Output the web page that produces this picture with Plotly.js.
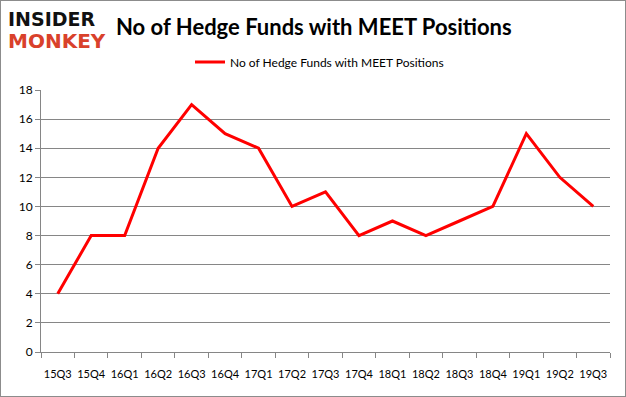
<!DOCTYPE html>
<html><head><meta charset="utf-8">
<script src="https://cdn.plot.ly/plotly-3.0.1.min.js"></script>
<style>html,body{margin:0;padding:0;background:#fff}#wrap{width:624px;height:395px;border:1px solid #8c8c8c}#chart{width:624px;height:395px}</style>
</head><body><div id="wrap"><div id="chart"></div></div>
<script>
var quarters = ["15Q3","15Q4","16Q1","16Q2","16Q3","16Q4","17Q1","17Q2","17Q3","17Q4","18Q1","18Q2","18Q3","18Q4","19Q1","19Q2","19Q3"];
var funds = [4,8,8,14,17,15,14,10,11,8,9,8,9,10,15,12,10];
var seriesName = "No of Hedge Funds with MEET Positions";
var yTicks = [0,2,4,6,8,10,12,14,16,18];

var L = 40, R = 15, T = 89, B = 44, W = 624, H = 395;
var pw = W - L - R, ph = H - T - B;
function px(x){ return (x - 1 - L) / pw; }
function py(y){ return 1 - (y - 1 - T) / ph; }

var font = "Lato, Calibri, 'Open Sans', sans-serif";
var layout = {
  width: W, height: H,
  margin: {l: L, r: R, t: T, b: B},
  paper_bgcolor: "#fff", plot_bgcolor: "#fff",
  showlegend: true,
  legend: {orientation: "h", x: px(190), xanchor: "left", y: py(62), yanchor: "middle",
           font: {family: font, size: 12, color: "#000"}},
  xaxis: {type: "category", tickson: "boundaries", ticks: "outside", ticklen: 5, tickcolor: "#868686",
          showline: true, linecolor: "#868686", showgrid: false, tickangle: 0, automargin: false,
          ticklabelstandoff: 12,
          tickfont: {family: font, size: 11, color: "#000"}, range: [-0.5, 16.5]},
  yaxis: {range: [0, 18], tickvals: yTicks, ticks: "outside", ticklen: 5, tickcolor: "#868686",
          showline: true, linecolor: "#868686", gridcolor: "#868686", gridwidth: 1,
          zeroline: false, tickfont: {family: font, size: 12, color: "#000"}},
  annotations: [
    {text: "<b>No of Hedge Funds with MEET Positions</b>", xref: "paper", yref: "paper", x: px(114), y: py(26),
     xanchor: "left", yanchor: "middle", showarrow: false, font: {family: font, size: 22, color: "#000"}},
    {text: "<b>INSIDER</b>", xref: "paper", yref: "paper", x: px(6), y: py(19), xanchor: "left", yanchor: "middle",
     showarrow: false, font: {family: "'DejaVu Sans', sans-serif", size: 19, color: "#111"}},
    {text: "<b>MONKEY</b>", xref: "paper", yref: "paper", x: px(6), y: py(41), xanchor: "left", yanchor: "middle",
     showarrow: false, font: {family: "'DejaVu Sans', sans-serif", size: 20, color: "#d9412b"}}
  ]
};
var trace = {x: quarters, y: funds, type: "scatter", mode: "lines", name: seriesName,
             line: {color: "#ff0000", width: 3}};
Plotly.newPlot("chart", [trace], layout, {displayModeBar: false, staticPlot: true});
</script></body></html>
